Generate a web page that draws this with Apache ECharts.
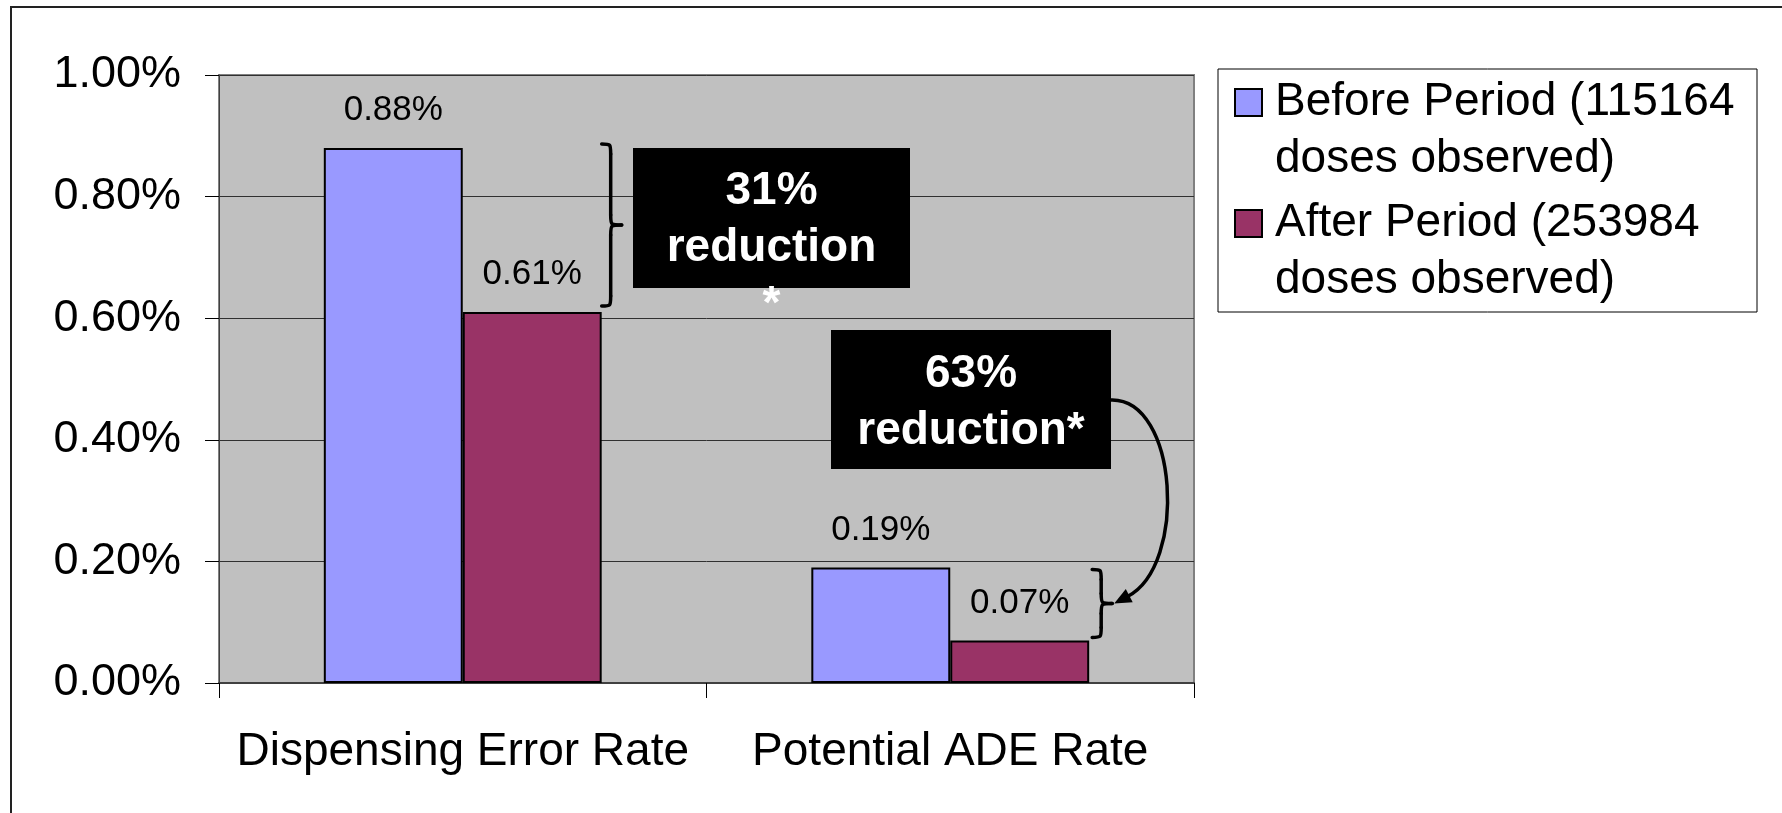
<!DOCTYPE html>
<html>
<head>
<meta charset="utf-8">
<script src="https://cdn.jsdelivr.net/npm/echarts@6/dist/echarts.min.js"></script>
<style>html,body{margin:0;padding:0;background:#fff;}#c{width:1782px;height:813px;}</style>
</head>
<body>
<div id="c"></div>
<script>
const categories = ['Dispensing Error Rate', 'Potential ADE Rate'];
const seriesNames = ['Before Period (115164 doses observed)', 'After Period (253984 doses observed)'];
const beforeValues = [0.88, 0.19];
const afterValues = [0.61, 0.07];
const yTicks = [0, 0.2, 0.4, 0.6, 0.8, 1.0];
const annotation1 = '31%\nreduction\n*';
const annotation2 = '63%\nreduction*';

const FONT = '"Liberation Sans", Arial, sans-serif';
const chart = echarts.init(document.getElementById('c'), null, {renderer: 'canvas'});

const labelCfg = {
  show: true, position: 'top', distance: 20, color: '#000', fontSize: 35, lineHeight: 35,
  fontFamily: FONT, formatter: p => p.value.toFixed(2) + '%'
};

chart.setOption({
  backgroundColor: '#fff',
  animation: false,
  grid: {left: 219, right: 588, top: 75, bottom: 130, show: true,
         backgroundColor: '#C0C0C0', borderColor: '#808080', borderWidth: 2},
  legend: {
    orient: 'vertical', left: 1234, top: 17, padding: 0,
    itemWidth: 27, itemHeight: 27, itemGap: -50, icon: 'rect',
    itemStyle: {borderColor: '#000', borderWidth: 2},
    formatter: n => '\n' + n.replace(' doses', '\ndoses'),
    textStyle: {fontSize: 46, lineHeight: 57, color: '#000', fontFamily: FONT, padding: [0, 0, 0, 8]},
    data: seriesNames
  },
  xAxis: {
    type: 'category', data: categories,
    axisLine: {show: true, lineStyle: {color: '#404040', width: 2}},
    axisTick: {show: true, length: 15, lineStyle: {color: '#000', width: 1}},
    axisLabel: {interval: 0, fontSize: 46, color: '#000', fontFamily: FONT, margin: 46}
  },
  yAxis: {
    type: 'value', min: yTicks[0], max: yTicks[yTicks.length - 1], interval: 0.2,
    axisLine: {show: true, lineStyle: {color: '#404040', width: 1}},
    axisTick: {show: true, length: 14, lineStyle: {color: '#000'}},
    axisLabel: {fontSize: 45, color: '#000', fontFamily: FONT, margin: 38,
                formatter: v => v.toFixed(2) + '%'},
    splitLine: {show: true, lineStyle: {color: '#303030', width: 1}}
  },
  series: [
    {name: seriesNames[0], type: 'bar', data: beforeValues, barGap: '0%', barCategoryGap: '43%',
     itemStyle: {color: '#9999FF', borderColor: '#000', borderWidth: 2}, label: labelCfg},
    {name: seriesNames[1], type: 'bar', data: afterValues,
     itemStyle: {color: '#993366', borderColor: '#000', borderWidth: 2}, label: labelCfg}
  ]
});

// Annotation overlays derived from axis scales
const p = (ci, v) => chart.convertToPixel({gridIndex: 0}, [ci, v]);
const catW = p(1, 0)[0] - p(0, 0)[0];
const barW = catW * (1 - 0.43) / 2;
const strokeStyle = {fill: 'none', stroke: '#000', lineWidth: 3.5, lineCap: 'round'};

function bz(a, c1, c2, b) {
  return {type: 'bezierCurve', silent: true, z: 100,
    shape: {x1: a[0], y1: a[1], cpx1: c1[0], cpy1: c1[1], cpx2: c2[0], cpy2: c2[1], x2: b[0], y2: b[1]},
    style: strokeStyle};
}
function ln(a, b) {
  return {type: 'line', silent: true, z: 100, shape: {x1: a[0], y1: a[1], x2: b[0], y2: b[1]}, style: strokeStyle};
}
function brace(x0, yTop, yBot, w) {
  const xm = x0 + w * 0.45, ym = (yTop + yBot) / 2, r = Math.min(10, (yBot - yTop) / 6);
  return [
    bz([x0, yTop], [xm, yTop], [xm, yTop], [xm, yTop + r]),
    ln([xm, yTop + r], [xm, ym - r]),
    bz([xm, ym - r], [xm, ym], [xm, ym], [x0 + w, ym]),
    bz([x0 + w, ym], [xm, ym], [xm, ym], [xm, ym + r]),
    ln([xm, ym + r], [xm, yBot - r]),
    bz([xm, yBot - r], [xm, yBot], [xm, yBot], [x0, yBot])
  ];
}

const b1x = p(0, 0)[0] + barW;
const b1t = p(0, beforeValues[0])[1] - 4, b1b = p(0, afterValues[0])[1] - 6;
const b2x = p(1, 0)[0] + barW + 3;
const b2t = p(1, beforeValues[1])[1] + 2, b2b = p(1, afterValues[1])[1] - 3;
const tip = [b2x + 22, (b2t + b2b) / 2];

const a0 = [1111, 400], c1 = [1178, 398], c2 = [1188, 565];
const dir = [tip[0] - c2[0], tip[1] - c2[1]];
const dl = Math.hypot(dir[0], dir[1]);
const ux = dir[0] / dl, uy = dir[1] / dl;
const ah = 17, aw = 7.5;
const base = [tip[0] - ux * ah, tip[1] - uy * ah];
const arrowEnd = [tip[0] - ux * (ah - 2), tip[1] - uy * (ah - 2)];

chart.setOption({
  graphic: [
    {type: 'rect', silent: true, shape: {x: 11, y: 7, width: 1800, height: 900},
     style: {fill: 'none', stroke: '#222', lineWidth: 2}},
    {type: 'rect', silent: true, shape: {x: 1218, y: 69, width: 539, height: 243},
     style: {fill: 'none', stroke: '#000', lineWidth: 1}},
    ...brace(b1x, b1t, b1b, 20),
    ...brace(b2x, b2t, b2b, 20),
    {type: 'rect', silent: true, z: 100, shape: {x: 633, y: 148, width: 277, height: 140}, style: {fill: '#000'}},
    {type: 'text', silent: true, z: 101, x: 771.5, y: 163,
     style: {text: annotation1, fill: '#fff', font: 'bold 46px ' + FONT, lineHeight: 57, align: 'center', verticalAlign: 'top'}},
    {type: 'rect', silent: true, z: 100, shape: {x: 831, y: 330, width: 280, height: 139}, style: {fill: '#000'}},
    {type: 'text', silent: true, z: 101, x: 971, y: 346,
     style: {text: annotation2, fill: '#fff', font: 'bold 46px ' + FONT, lineHeight: 57, align: 'center', verticalAlign: 'top'}},
    bz(a0, c1, c2, arrowEnd),
    {type: 'polygon', silent: true, z: 100,
     shape: {points: [tip, [base[0] - uy * aw, base[1] + ux * aw], [base[0] + uy * aw, base[1] - ux * aw]]},
     style: {fill: '#000'}}
  ]
});
</script>
</body>
</html>
